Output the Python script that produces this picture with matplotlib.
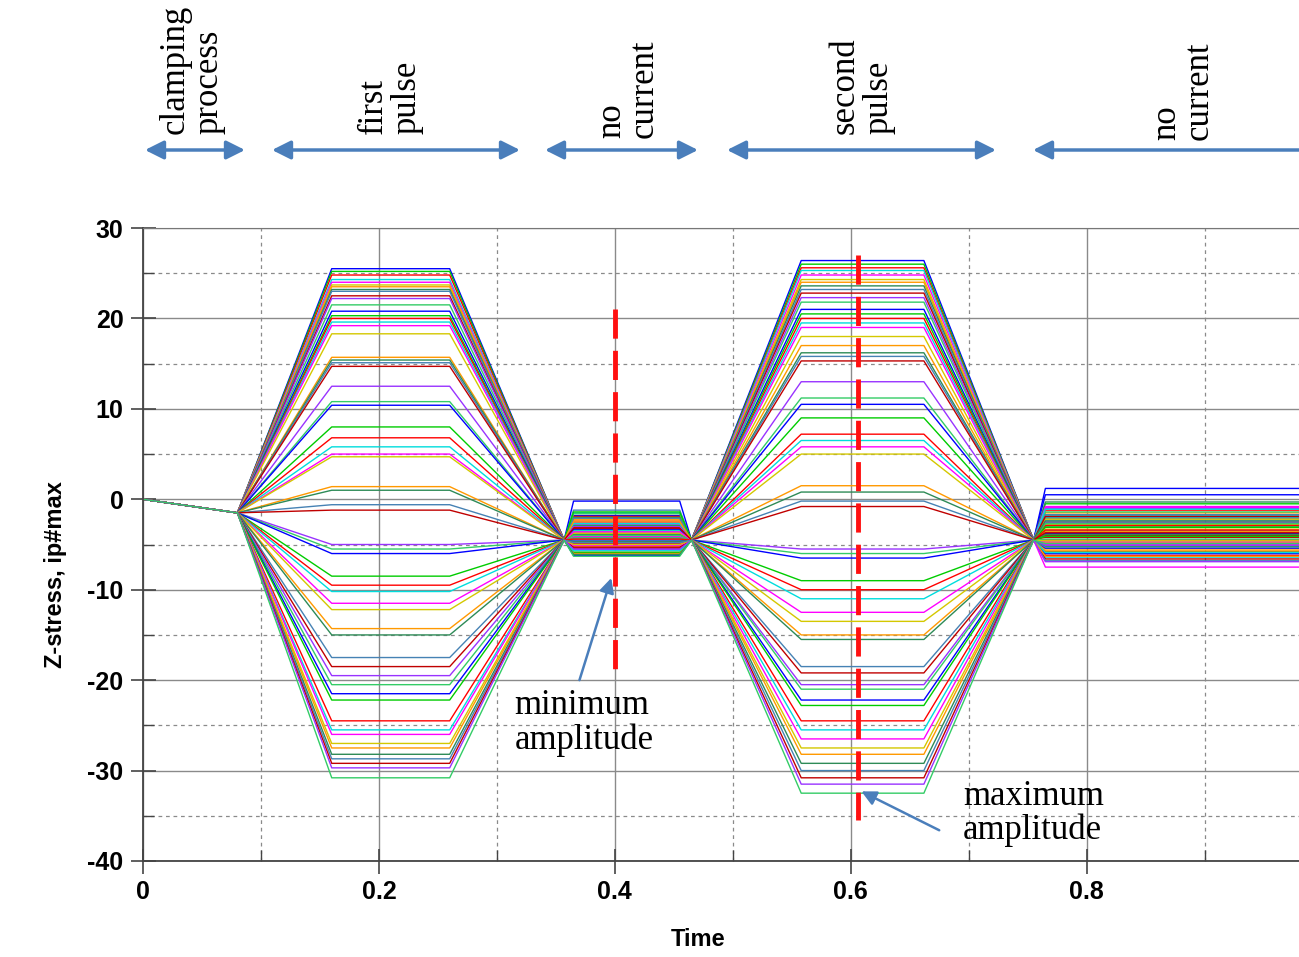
import matplotlib
matplotlib.use("Agg")
import matplotlib.pyplot as plt
import numpy as np

# ========= Datos ========= #

# instantes de cambio de fase (s)
t_fases = [0, 0.08, 0.16, 0.26, 0.357, 0.365, 0.455, 0.465, 0.558, 0.662, 0.755, 0.765, 0.98]
nivel_clamping = -1.5
nivel_cruce = -4.5

# meseta del primer pulso
pulso1 = [
    25.5, 25.2, 24.8, 24.3, 24.0, 23.7, 23.5, 23.2, 23.0, 22.5,
    22.2, 21.5, 20.8, 20.3, 20.0, 19.6, 19.2, 18.3, 15.7, 15.4,
    15.1, 14.7, 12.5, 10.8, 10.4, 8.0, 6.8, 5.8, 5.0, 4.7,
    1.4, 1.0, -0.6, -1.2, -5.0, -5.5, -6.0, -8.5, -9.5, -10.2,
    -11.5, -12.2, -14.3, -15.0, -17.5, -18.5, -19.5, -20.5, -21.5, -22.2,
    -24.5, -25.5, -26.0, -27.0, -27.5, -28.2, -28.7, -29.2, -29.7, -30.8]

# nivel sin corriente entre pulsos
sin_corriente1 = [
    -1.8, -2.5, -3.2, -1.5, -2.8, -3.6, -2.2, -4.0, -1.2, -3.0,
    -2.6, -4.4, -0.2, -3.4, -1.9, -4.8, -2.4, -3.8, -5.2, -2.0,
    -4.2, -3.1, -5.5, -1.6, -4.6, -2.9, -5.0, -3.5, -4.1, -5.8,
    -2.3, -3.9, -4.5, -5.3, -5.6, -4.3, -3.3, -5.9, -4.9, -2.7,
    -5.1, -3.7, -6.0, -4.7, -2.1, -5.4, -3.0, -4.0, -6.2, -1.4,
    -4.4, -5.7, -3.6, -5.0, -2.5, -6.1, -4.8, -3.2, -5.5, -6.3]

# meseta del segundo pulso
pulso2 = [
    26.4, 26.0, 25.6, 25.3, 24.8, 24.3, 24.0, 23.6, 23.2, 22.8,
    22.3, 21.8, 21.0, 20.5, 20.0, 19.5, 19.0, 18.0, 17.0, 16.2,
    15.8, 15.3, 13.0, 11.2, 10.5, 9.0, 7.2, 6.5, 5.8, 5.0,
    1.5, 0.8, -0.2, -0.8, -5.5, -6.0, -6.5, -9.0, -10.0, -11.0,
    -12.5, -13.5, -15.0, -15.5, -18.5, -19.2, -20.5, -21.0, -22.2, -22.8,
    -24.5, -25.5, -26.5, -27.5, -28.2, -29.2, -30.0, -30.8, -31.5, -32.5]

# nivel final sin corriente
sin_corriente2 = [
    1.2, -0.5, -1.2, -2.0, -0.8, -2.8, -1.5, -3.5, -2.3, -4.0,
    -1.0, -3.0, 0.5, -2.6, -4.5, -1.8, -5.0, -3.3, -5.5, -0.3,
    -2.1, -4.2, -6.0, -1.4, -3.8, -5.2, -2.9, -6.4, -0.9, -4.8,
    -3.6, -5.8, -1.7, -6.6, -2.5, -4.4, -5.4, -3.1, -6.2, -1.1,
    -4.7, -2.2, -5.7, -3.9, -6.8, -1.9, -5.1, -2.7, -6.0, -4.1,
    -3.4, -5.9, -7.5, -4.6, -6.3, -2.4, -5.3, -3.7, -6.9, -4.9]

colores = ['#0000ff', '#00cc00', '#ff0000', '#00dddd', '#ff00ff', '#d4c800',
           '#ff9900', '#2e8b57', '#4682b4', '#c00000', '#9933ff', '#33cc66']

fases = ["clamping\nprocess", "first\npulse", "no\ncurrent", "second\npulse", "no\ncurrent"]

# ========== Grafico ========== #

plt.rcParams['axes.unicode_minus'] = False
serif = 'Liberation Serif'
sans = 'Liberation Sans'
azul = '#4a7ebb'

fig = plt.figure(figsize=(12.99, 9.57), dpi=100)
W, H = 1299, 957
ax = fig.add_axes([143 / W, 1 - 861 / H, (W - 143) / W, (861 - 228) / H])

for i in range(len(pulso1)):
    y = [0, nivel_clamping, pulso1[i], pulso1[i], nivel_cruce, sin_corriente1[i], sin_corriente1[i],
         nivel_cruce, pulso2[i], pulso2[i], nivel_cruce, sin_corriente2[i], sin_corriente2[i]]
    ax.plot(t_fases, y, color=colores[i % len(colores)], lw=1.0)

ax.set_xlim(0, 0.98)
ax.set_ylim(-40, 30)
ax.set_xticks([0, 0.2, 0.4, 0.6, 0.8])
ax.set_xticklabels(['0', '0.2', '0.4', '0.6', '0.8'])
ax.set_yticks(np.arange(-40, 31, 10))
ax.set_xticks(np.arange(0.1, 0.98, 0.2), minor=True)
ax.set_yticks(np.arange(-35, 30, 10), minor=True)
ax.grid(True, which='major', color='#8a8a8a', lw=1.0, ls='-')
ax.grid(True, which='minor', color='#8a8a8a', lw=0.9, ls=(0, (3, 3)))
ax.set_axisbelow(True)
ax.tick_params(which='major', direction='inout', length=18, width=1.2, color='#444444', pad=5)
ax.tick_params(which='minor', direction='in', length=8, width=1.0, color='#444444')
for lab in ax.get_xticklabels() + ax.get_yticklabels():
    lab.set_fontfamily(sans)
    lab.set_fontweight('bold')
    lab.set_fontsize(18)
for s in ['left', 'bottom']:
    ax.spines[s].set_color('#444444')
    ax.spines[s].set_linewidth(1.3)
ax.spines['top'].set_color('#777777')
ax.spines['right'].set_visible(False)

ax.set_xlabel('Time', fontfamily=sans, fontweight='bold', fontsize=17)
ax.set_ylabel('Z-stress, ip#max', fontfamily=sans, fontweight='bold', fontsize=17)
ax.xaxis.set_label_coords(0.48, -0.106)
ax.yaxis.set_label_coords(-0.066, 0.452)

# lineas rojas punteadas
ax.plot([0.4, 0.4], [21, -20], color='#ff1010', lw=3.5, dashes=(6, 2.5), solid_capstyle='butt')
ax.plot([0.606, 0.606], [27, -35.5], color='#ff1010', lw=3.5, dashes=(6, 2.5), solid_capstyle='butt')

ax.annotate('', xy=(0.397, -8.7), xytext=(0.370, -20.0),
            arrowprops=dict(arrowstyle='-|>', color=azul, lw=1.8, mutation_scale=22,
                            shrinkA=0, shrinkB=0))
ax.text(0.315, -21.0, 'minimum\namplitude', fontfamily=serif, fontsize=25,
        ha='left', va='top', linespacing=1.05)
ax.annotate('', xy=(0.609, -32.3), xytext=(0.675, -36.6),
            arrowprops=dict(arrowstyle='-|>', color=azul, lw=1.8, mutation_scale=22,
                            shrinkA=0, shrinkB=0))
ax.text(0.695, -31.0, 'maximum\namplitude', fontfamily=serif, fontsize=25,
        ha='left', va='top', linespacing=1.05)

# fases arriba del grafico
flechas_px = [(145, 245, '<|-|>'), (272, 520, '<|-|>'), (545, 698, '<|-|>'),
              (727, 996, '<|-|>'), (1033, 1299, '<|-')]
for x0, x1, estilo in flechas_px:
    fig.add_artist(matplotlib.patches.FancyArrowPatch(
        (x0 / W, 1 - 150 / H), (x1 / W, 1 - 150 / H), transform=fig.transFigure,
        arrowstyle=estilo, color=azul, lw=2.5, mutation_scale=28, shrinkA=0, shrinkB=0))

textos_px = [(192, 134), (390, 134), (628, 138), (862, 134), (1183, 140)]
for (xc, yb), texto in zip(textos_px, fases):
    fig.text(xc / W, 1 - yb / H, texto, rotation=90, ha='center', va='bottom',
             multialignment='left', fontfamily=serif, fontsize=25, linespacing=1.0)

fig.savefig('out.png', dpi=100)
